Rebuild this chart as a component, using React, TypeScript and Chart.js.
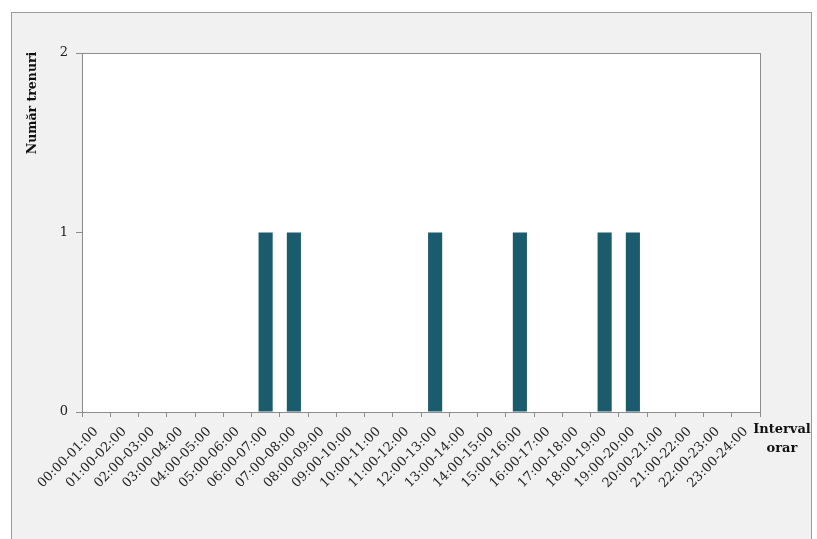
import React, { useEffect, useRef } from "react";
import { Chart, registerables } from "chart.js";

Chart.register(...registerables);

const categories = [
  "00:00-01:00", "01:00-02:00", "02:00-03:00", "03:00-04:00", "04:00-05:00", "05:00-06:00",
  "06:00-07:00", "07:00-08:00", "08:00-09:00", "09:00-10:00", "10:00-11:00", "11:00-12:00",
  "12:00-13:00", "13:00-14:00", "14:00-15:00", "15:00-16:00", "16:00-17:00", "17:00-18:00",
  "18:00-19:00", "19:00-20:00", "20:00-21:00", "21:00-22:00", "22:00-23:00", "23:00-24:00",
];
const trainCounts = [0, 0, 0, 0, 0, 0, 1, 1, 0, 0, 0, 0, 1, 0, 0, 1, 0, 0, 1, 1, 0, 0, 0, 0];
const yTitle = "Număr trenuri";
const xTitleLines = ["Interval", "orar"];

const FONT = "'DejaVu Serif', serif";

const framePlugin = {
  id: "frame",
  beforeDraw(chart: any) {
    const { ctx, chartArea } = chart;
    ctx.save();
    ctx.fillStyle = "#ffffff";
    ctx.fillRect(0, 0, chart.width, chart.height);
    ctx.fillStyle = "#f1f1f1";
    ctx.fillRect(11, 12, 801, 540);
    ctx.strokeStyle = "#9a9a9a";
    ctx.lineWidth = 1;
    ctx.strokeRect(11.5, 12.5, 800, 540);
    ctx.fillStyle = "#ffffff";
    ctx.fillRect(chartArea.left, chartArea.top, chartArea.right - chartArea.left, chartArea.bottom - chartArea.top);
    ctx.restore();
  },
  afterDraw(chart: any) {
    const { ctx, chartArea } = chart;
    ctx.save();
    ctx.strokeStyle = "#8c8c8c";
    ctx.lineWidth = 1;
    ctx.strokeRect(
      Math.round(chartArea.left) + 0.5,
      Math.round(chartArea.top) + 0.5,
      Math.round(chartArea.right - chartArea.left),
      Math.round(chartArea.bottom - chartArea.top)
    );
    ctx.fillStyle = "#111";
    ctx.font = `bold 12.5px ${FONT}`;
    ctx.translate(33, 103);
    ctx.rotate(-Math.PI / 2);
    ctx.textAlign = "center";
    ctx.textBaseline = "middle";
    ctx.fillText(yTitle, 0, 0);
    ctx.restore();
    ctx.save();
    ctx.fillStyle = "#111";
    ctx.font = `bold 13px ${FONT}`;
    ctx.textAlign = "center";
    ctx.textBaseline = "middle";
    ctx.fillText(xTitleLines[0], 782, 430);
    ctx.fillText(xTitleLines[1], 782, 449);
    ctx.restore();
  },
};

export default function App() {
  const ref = useRef<HTMLCanvasElement | null>(null);
  useEffect(() => {
    if (!ref.current) return;
    const chart = new Chart(ref.current, {
      type: "bar",
      data: {
        labels: categories,
        datasets: [
          {
            data: trainCounts,
            backgroundColor: "#1b5b6e",
            categoryPercentage: 1,
            barPercentage: 0.5,
          },
        ],
      },
      options: {
        responsive: false,
        animation: false,
        layout: { padding: { left: 0, top: 53, right: 57, bottom: 0 } },
        plugins: { legend: { display: false }, tooltip: { enabled: false } },
        scales: {
          x: {
            grid: { display: true, drawOnChartArea: false, tickLength: 5, color: "#8c8c8c", offset: true },
            border: { display: false },
            ticks: {
              autoSkip: false,
              maxRotation: 45,
              minRotation: 45,
              padding: 7,
              color: "#222",
              font: { family: FONT, size: 13 },
            },
            afterFit(scale: any) {
              scale.height = 127;
            },
          },
          y: {
            min: 0,
            max: 2,
            grid: { display: true, drawOnChartArea: false, tickLength: 6, color: "#8c8c8c" },
            border: { display: false },
            ticks: {
              stepSize: 1,
              padding: 8,
              color: "#222",
              font: { family: FONT, size: 13 },
            },
            afterFit(scale: any) {
              scale.width = 82;
            },
          },
        },
      },
      plugins: [framePlugin],
    });
    return () => chart.destroy();
  }, []);
  return (
    <div style={{ position: "absolute", left: 0, top: 0, width: 817, height: 539 }}>
      <canvas ref={ref} width={817} height={539} />
    </div>
  );
}
